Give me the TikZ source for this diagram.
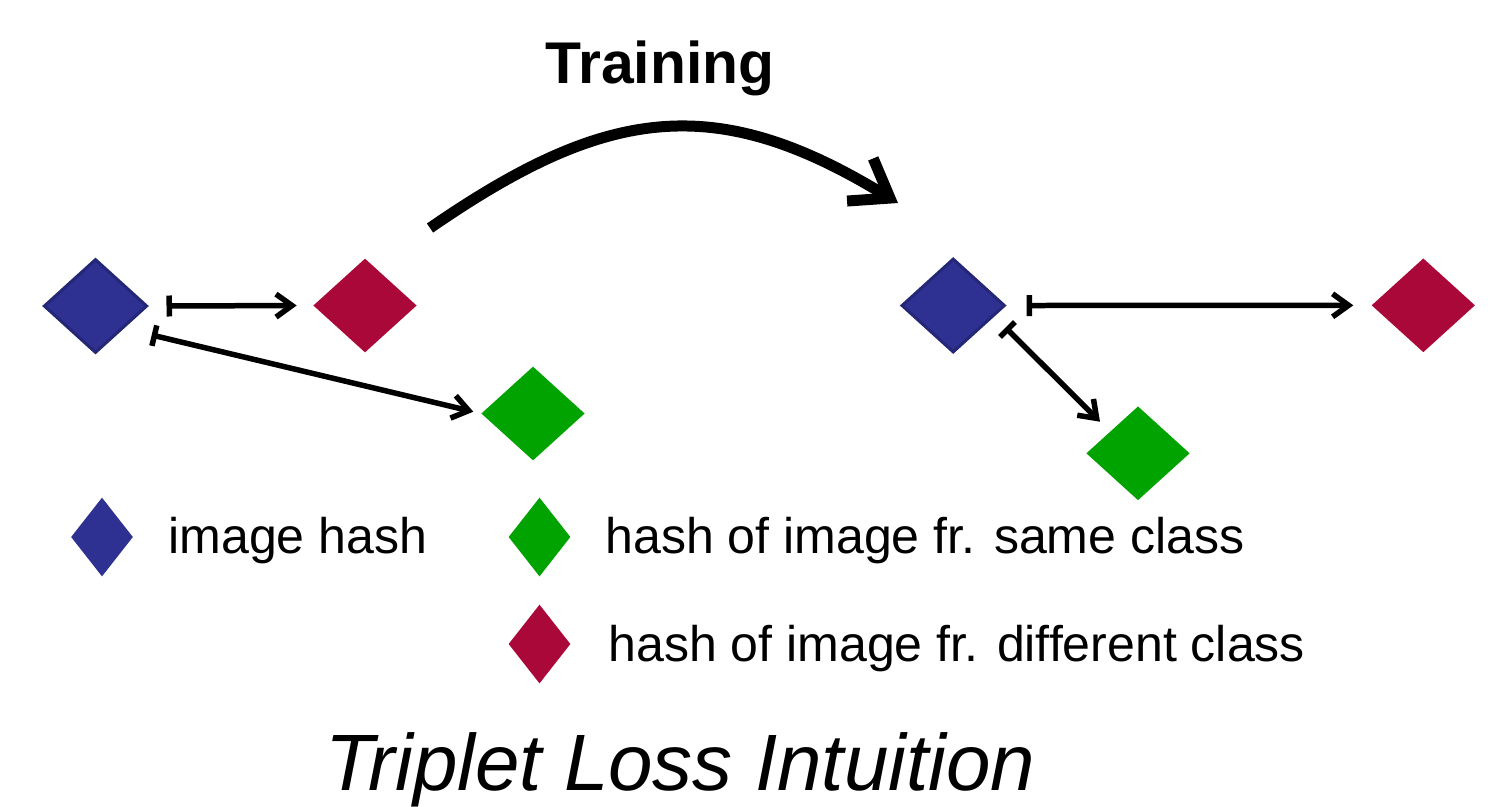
\documentclass[tikz,border=0pt]{standalone}
\usepackage{fontspec}
\setmainfont{Liberation Sans}
\usetikzlibrary{shapes.geometric,arrows.meta}
\definecolor{hblue}{RGB}{46,49,146}
\definecolor{hblueb}{RGB}{36,38,118}
\definecolor{hred}{RGB}{171,8,58}
\definecolor{hgreen}{RGB}{0,163,0}
\begin{document}
\begin{tikzpicture}[x=0.02cm,y=-0.02cm,
  hd/.style={diamond, inner sep=0pt, draw=none},
  bigd/.style={hd, minimum width=2.07cm, minimum height=1.88cm},
  smalld/.style={hd, minimum width=1.24cm, minimum height=1.58cm},
  blued/.style={bigd, fill=hblue, draw=hblueb, line width=0.06cm},
  redd/.style={bigd, fill=hred},
  greend/.style={bigd, fill=hgreen},
  pair/.style={line width=0.11cm, {Bar[width=0.42cm]}-{Straight Barb[length=0.32cm,width=0.46cm]}},
  trainarrow/.style={line width=0.22cm, -{Straight Barb[length=0.7cm,width=1.0cm]}},
  legtext/.style={anchor=base west, inner sep=0pt, font=\fontsize{28.5pt}{34pt}\selectfont},
]
\useasboundingbox (0,0) rectangle (1507,806);

% title
\node[anchor=base, inner sep=0pt, font=\fontsize{33.5pt}{40pt}\selectfont\bfseries] (train) at (660,83) {Training};

% left (before training)
\node[blued] (b1) at (95.5,306) {};
\node[redd] (r1) at (365,305.5) {};
\node[greend] (g1) at (533,413.5) {};

% right (after training)
\node[blued] (b2) at (953.2,305.5) {};
\node[redd] (r2) at (1423.3,305.3) {};
\node[greend] (g2) at (1138,453.3) {};

% training arrow
\coordinate (ts) at (430,228);
\coordinate (te) at (898,203);
\draw[trainarrow] (ts) .. controls (604.5,107.6) and (714,90) .. (te);

% distance arrows
\draw[pair] ([shift={(71,0)}]b1.center) -- ([shift={(-68.3,0)}]r1.center);
\draw[pair] ([shift={(56.2,29)}]b1.center) -- ([shift={(-59.7,-1.8)}]g1.center);
\draw[pair] ([shift={(73.5,0)}]b2.center) -- ([shift={(-70,0)}]r2.center);
\draw[pair] ([shift={(52.3,22)}]b2.center) -- ([shift={(-38,-31.6)}]g2.center);

% legend
\node[smalld, fill=hblue] (lb) at (102,537) {};
\node[smalld, fill=hgreen] (lg) at (539.5,537) {};
\node[smalld, fill=hred] (lr) at (539.5,644) {};
\node[legtext] (tb) at (168,553) {image hash};
\node[legtext] (tg) at (605,553) {hash of image fr. same class};
\node[legtext] (tr) at (608,661) {hash of image fr. different class};

% caption
\node[anchor=base, inner sep=0pt, font=\fontsize{45.5pt}{52pt}\selectfont\itshape] (cap) at (680.5,790) {Triplet Loss Intuition};
\end{tikzpicture}
\end{document}
